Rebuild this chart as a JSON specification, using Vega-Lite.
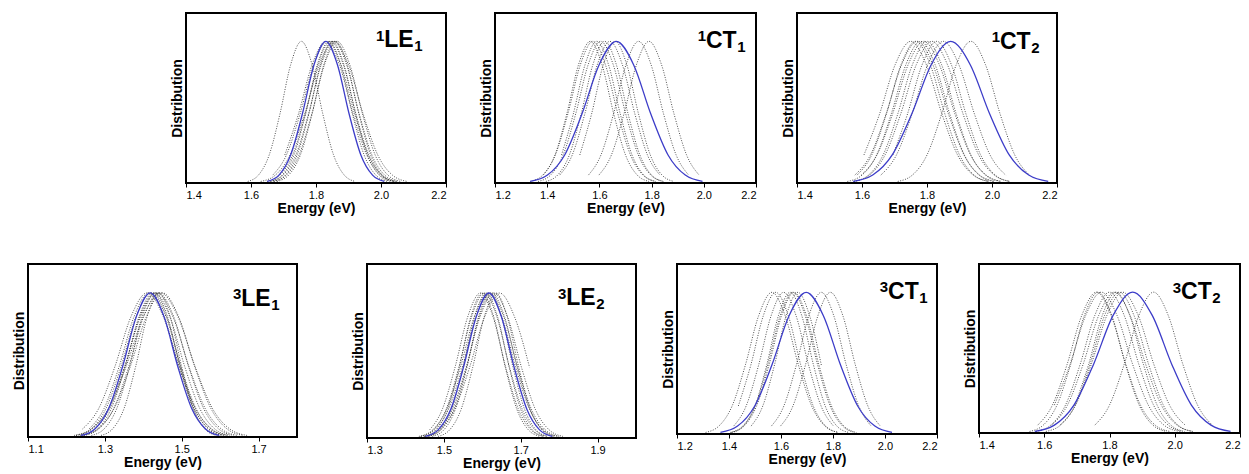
{
"$schema": "https://vega.github.io/schema/vega-lite/v6.json",
"background": "white",
"padding": {"left": 11, "top": 12, "right": 0, "bottom": 0},
"config": {
  "font": "Liberation Sans",
  "view": {"stroke": "black", "strokeWidth": 2},
  "axis": {"grid": false, "domain": false, "labelFont": "Liberation Sans", "labelFontSize": 11, "labelColor": "black", "tickColor": "black", "tickSize": 4, "labelPadding": 2, "titleFont": "Liberation Sans", "titleFontSize": 14, "titleFontWeight": "bold", "titleColor": "black"},
  "axisY": {"titlePadding": 2, "labels": false, "ticks": false},
  "axisX": {"titlePadding": 1, "format": ".1f"},
  "text": {"font": "Liberation Sans", "fontWeight": "bold", "color": "black"}
},
"datasets": {
"p1": [
{"c":0,"x":1.65,"y":0.011},{"c":0,"x":1.686,"y":0.056},{"c":0,"x":1.722,"y":0.198},{"c":0,"x":1.758,"y":0.487},{"c":0,"x":1.794,"y":0.835},{"c":0,"x":1.83,"y":1},{"c":0,"x":1.866,"y":0.835},{"c":0,"x":1.902,"y":0.487},{"c":0,"x":1.938,"y":0.198},{"c":0,"x":1.974,"y":0.056},{"c":0,"x":2.01,"y":0.011},
{"c":1,"x":1.59,"y":0.011},{"c":1,"x":1.623,"y":0.056},{"c":1,"x":1.656,"y":0.198},{"c":1,"x":1.689,"y":0.487},{"c":1,"x":1.722,"y":0.835},{"c":1,"x":1.755,"y":1},{"c":1,"x":1.788,"y":0.835},{"c":1,"x":1.821,"y":0.487},{"c":1,"x":1.854,"y":0.198},{"c":1,"x":1.887,"y":0.056},{"c":1,"x":1.92,"y":0.011},
{"c":2,"x":1.667,"y":0.056},{"c":2,"x":1.709,"y":0.198},{"c":2,"x":1.751,"y":0.487},{"c":2,"x":1.793,"y":0.835},{"c":2,"x":1.835,"y":1},{"c":2,"x":1.877,"y":0.835},{"c":2,"x":1.919,"y":0.487},{"c":2,"x":1.961,"y":0.198},{"c":2,"x":2.003,"y":0.056},{"c":2,"x":2.045,"y":0.011},
{"c":3,"x":1.66,"y":0.011},{"c":3,"x":1.696,"y":0.056},{"c":3,"x":1.732,"y":0.198},{"c":3,"x":1.768,"y":0.487},{"c":3,"x":1.804,"y":0.835},{"c":3,"x":1.84,"y":1},{"c":3,"x":1.876,"y":0.835},{"c":3,"x":1.912,"y":0.487},{"c":3,"x":1.948,"y":0.198},{"c":3,"x":1.984,"y":0.056},{"c":3,"x":2.02,"y":0.011},
{"c":4,"x":1.65,"y":0.011},{"c":4,"x":1.689,"y":0.056},{"c":4,"x":1.728,"y":0.198},{"c":4,"x":1.767,"y":0.487},{"c":4,"x":1.806,"y":0.835},{"c":4,"x":1.845,"y":1},{"c":4,"x":1.884,"y":0.835},{"c":4,"x":1.923,"y":0.487},{"c":4,"x":1.962,"y":0.198},{"c":4,"x":2.001,"y":0.056},{"c":4,"x":2.04,"y":0.011},
{"c":5,"x":1.67,"y":0.011},{"c":5,"x":1.706,"y":0.056},{"c":5,"x":1.742,"y":0.198},{"c":5,"x":1.778,"y":0.487},{"c":5,"x":1.814,"y":0.835},{"c":5,"x":1.85,"y":1},{"c":5,"x":1.886,"y":0.835},{"c":5,"x":1.922,"y":0.487},{"c":5,"x":1.958,"y":0.198},{"c":5,"x":1.994,"y":0.056},{"c":5,"x":2.03,"y":0.011},
{"c":6,"x":1.66,"y":0.011},{"c":6,"x":1.699,"y":0.056},{"c":6,"x":1.738,"y":0.198},{"c":6,"x":1.777,"y":0.487},{"c":6,"x":1.816,"y":0.835},{"c":6,"x":1.855,"y":1},{"c":6,"x":1.894,"y":0.835},{"c":6,"x":1.933,"y":0.487},{"c":6,"x":1.972,"y":0.198},{"c":6,"x":2.011,"y":0.056},{"c":6,"x":2.05,"y":0.011},
{"c":7,"x":1.68,"y":0.011},{"c":7,"x":1.716,"y":0.056},{"c":7,"x":1.752,"y":0.198},{"c":7,"x":1.788,"y":0.487},{"c":7,"x":1.824,"y":0.835},{"c":7,"x":1.86,"y":1},{"c":7,"x":1.896,"y":0.835},{"c":7,"x":1.932,"y":0.487},{"c":7,"x":1.968,"y":0.198},{"c":7,"x":2.004,"y":0.056},{"c":7,"x":2.04,"y":0.011},
{"c":8,"x":1.67,"y":0.011},{"c":8,"x":1.709,"y":0.056},{"c":8,"x":1.748,"y":0.198},{"c":8,"x":1.787,"y":0.487},{"c":8,"x":1.826,"y":0.835},{"c":8,"x":1.865,"y":1},{"c":8,"x":1.904,"y":0.835},{"c":8,"x":1.943,"y":0.487},{"c":8,"x":1.982,"y":0.198},{"c":8,"x":2.021,"y":0.056},{"c":8,"x":2.06,"y":0.011},
{"c":9,"x":1.63,"y":0.011},{"c":9,"x":1.675,"y":0.056},{"c":9,"x":1.72,"y":0.198},{"c":9,"x":1.765,"y":0.487},{"c":9,"x":1.81,"y":0.835},{"c":9,"x":1.855,"y":1},{"c":9,"x":1.9,"y":0.835},{"c":9,"x":1.945,"y":0.487},{"c":9,"x":1.99,"y":0.198},{"c":9,"x":2.035,"y":0.056},{"c":9,"x":2.08,"y":0.011},
{"c":10,"x":1.704,"y":0.198},{"c":10,"x":1.746,"y":0.487},{"c":10,"x":1.788,"y":0.835},{"c":10,"x":1.83,"y":1},{"c":10,"x":1.872,"y":0.835},{"c":10,"x":1.914,"y":0.487},{"c":10,"x":1.956,"y":0.198},{"c":10,"x":1.998,"y":0.056},{"c":10,"x":2.04,"y":0.011}
],
"p2": [
{"c":0,"x":1.335,"y":0.011},{"c":0,"x":1.401,"y":0.056},{"c":0,"x":1.467,"y":0.198},{"c":0,"x":1.533,"y":0.487},{"c":0,"x":1.599,"y":0.835},{"c":0,"x":1.665,"y":1},{"c":0,"x":1.731,"y":0.835},{"c":0,"x":1.797,"y":0.487},{"c":0,"x":1.863,"y":0.198},{"c":0,"x":1.929,"y":0.056},{"c":0,"x":1.995,"y":0.011},
{"c":1,"x":1.385,"y":0.056},{"c":1,"x":1.43,"y":0.198},{"c":1,"x":1.475,"y":0.487},{"c":1,"x":1.52,"y":0.835},{"c":1,"x":1.565,"y":1},{"c":1,"x":1.61,"y":0.835},{"c":1,"x":1.655,"y":0.487},{"c":1,"x":1.7,"y":0.198},{"c":1,"x":1.745,"y":0.056},{"c":1,"x":1.79,"y":0.011},
{"c":2,"x":1.335,"y":0.011},{"c":2,"x":1.383,"y":0.056},{"c":2,"x":1.431,"y":0.198},{"c":2,"x":1.479,"y":0.487},{"c":2,"x":1.527,"y":0.835},{"c":2,"x":1.575,"y":1},{"c":2,"x":1.623,"y":0.835},{"c":2,"x":1.671,"y":0.487},{"c":2,"x":1.719,"y":0.198},{"c":2,"x":1.767,"y":0.056},{"c":2,"x":1.815,"y":0.011},
{"c":3,"x":1.455,"y":0.198},{"c":3,"x":1.5,"y":0.487},{"c":3,"x":1.545,"y":0.835},{"c":3,"x":1.59,"y":1},{"c":3,"x":1.635,"y":0.835},{"c":3,"x":1.68,"y":0.487},{"c":3,"x":1.725,"y":0.198},{"c":3,"x":1.77,"y":0.056},{"c":3,"x":1.815,"y":0.011},
{"c":4,"x":1.365,"y":0.011},{"c":4,"x":1.413,"y":0.056},{"c":4,"x":1.461,"y":0.198},{"c":4,"x":1.509,"y":0.487},{"c":4,"x":1.557,"y":0.835},{"c":4,"x":1.605,"y":1},{"c":4,"x":1.653,"y":0.835},{"c":4,"x":1.701,"y":0.487},{"c":4,"x":1.749,"y":0.198},{"c":4,"x":1.797,"y":0.056},{"c":4,"x":1.845,"y":0.011},
{"c":5,"x":1.395,"y":0.011},{"c":5,"x":1.44,"y":0.056},{"c":5,"x":1.485,"y":0.198},{"c":5,"x":1.53,"y":0.487},{"c":5,"x":1.575,"y":0.835},{"c":5,"x":1.62,"y":1},{"c":5,"x":1.665,"y":0.835},{"c":5,"x":1.71,"y":0.487},{"c":5,"x":1.755,"y":0.198},{"c":5,"x":1.8,"y":0.056},{"c":5,"x":1.845,"y":0.011},
{"c":6,"x":1.448,"y":0.056},{"c":6,"x":1.496,"y":0.198},{"c":6,"x":1.544,"y":0.487},{"c":6,"x":1.592,"y":0.835},{"c":6,"x":1.64,"y":1},{"c":6,"x":1.688,"y":0.835},{"c":6,"x":1.736,"y":0.487},{"c":6,"x":1.784,"y":0.198},{"c":6,"x":1.832,"y":0.056},
{"c":7,"x":1.525,"y":0.198},{"c":7,"x":1.57,"y":0.487},{"c":7,"x":1.615,"y":0.835},{"c":7,"x":1.66,"y":1},{"c":7,"x":1.705,"y":0.835},{"c":7,"x":1.75,"y":0.487},{"c":7,"x":1.795,"y":0.198},{"c":7,"x":1.84,"y":0.056},{"c":7,"x":1.885,"y":0.011},
{"c":8,"x":1.558,"y":0.056},{"c":8,"x":1.606,"y":0.198},{"c":8,"x":1.654,"y":0.487},{"c":8,"x":1.702,"y":0.835},{"c":8,"x":1.75,"y":1},{"c":8,"x":1.798,"y":0.835},{"c":8,"x":1.846,"y":0.487},{"c":8,"x":1.894,"y":0.198},{"c":8,"x":1.942,"y":0.056},
{"c":9,"x":1.598,"y":0.056},{"c":9,"x":1.646,"y":0.198},{"c":9,"x":1.694,"y":0.487},{"c":9,"x":1.742,"y":0.835},{"c":9,"x":1.79,"y":1},{"c":9,"x":1.838,"y":0.835},{"c":9,"x":1.886,"y":0.487},{"c":9,"x":1.934,"y":0.198},{"c":9,"x":1.982,"y":0.056}
],
"p3": [
{"c":0,"x":1.573,"y":0.011},{"c":0,"x":1.633,"y":0.056},{"c":0,"x":1.693,"y":0.198},{"c":0,"x":1.753,"y":0.487},{"c":0,"x":1.813,"y":0.835},{"c":0,"x":1.873,"y":1},{"c":0,"x":1.933,"y":0.835},{"c":0,"x":1.993,"y":0.487},{"c":0,"x":2.053,"y":0.198},{"c":0,"x":2.113,"y":0.056},{"c":0,"x":2.173,"y":0.011},
{"c":1,"x":1.606,"y":0.198},{"c":1,"x":1.654,"y":0.487},{"c":1,"x":1.702,"y":0.835},{"c":1,"x":1.75,"y":1},{"c":1,"x":1.798,"y":0.835},{"c":1,"x":1.846,"y":0.487},{"c":1,"x":1.894,"y":0.198},{"c":1,"x":1.942,"y":0.056},{"c":1,"x":1.99,"y":0.011},
{"c":2,"x":1.585,"y":0.056},{"c":2,"x":1.63,"y":0.198},{"c":2,"x":1.675,"y":0.487},{"c":2,"x":1.72,"y":0.835},{"c":2,"x":1.765,"y":1},{"c":2,"x":1.81,"y":0.835},{"c":2,"x":1.855,"y":0.487},{"c":2,"x":1.9,"y":0.198},{"c":2,"x":1.945,"y":0.056},{"c":2,"x":1.99,"y":0.011},
{"c":3,"x":1.555,"y":0.011},{"c":3,"x":1.6,"y":0.056},{"c":3,"x":1.645,"y":0.198},{"c":3,"x":1.69,"y":0.487},{"c":3,"x":1.735,"y":0.835},{"c":3,"x":1.78,"y":1},{"c":3,"x":1.825,"y":0.835},{"c":3,"x":1.87,"y":0.487},{"c":3,"x":1.915,"y":0.198},{"c":3,"x":1.96,"y":0.056},{"c":3,"x":2.005,"y":0.011},
{"c":4,"x":1.598,"y":0.056},{"c":4,"x":1.646,"y":0.198},{"c":4,"x":1.694,"y":0.487},{"c":4,"x":1.742,"y":0.835},{"c":4,"x":1.79,"y":1},{"c":4,"x":1.838,"y":0.835},{"c":4,"x":1.886,"y":0.487},{"c":4,"x":1.934,"y":0.198},{"c":4,"x":1.982,"y":0.056},{"c":4,"x":2.03,"y":0.011},
{"c":5,"x":1.575,"y":0.011},{"c":5,"x":1.62,"y":0.056},{"c":5,"x":1.665,"y":0.198},{"c":5,"x":1.71,"y":0.487},{"c":5,"x":1.755,"y":0.835},{"c":5,"x":1.8,"y":1},{"c":5,"x":1.845,"y":0.835},{"c":5,"x":1.89,"y":0.487},{"c":5,"x":1.935,"y":0.198},{"c":5,"x":1.98,"y":0.056},{"c":5,"x":2.025,"y":0.011},
{"c":6,"x":1.575,"y":0.011},{"c":6,"x":1.623,"y":0.056},{"c":6,"x":1.671,"y":0.198},{"c":6,"x":1.719,"y":0.487},{"c":6,"x":1.767,"y":0.835},{"c":6,"x":1.815,"y":1},{"c":6,"x":1.863,"y":0.835},{"c":6,"x":1.911,"y":0.487},{"c":6,"x":1.959,"y":0.198},{"c":6,"x":2.007,"y":0.056},{"c":6,"x":2.055,"y":0.011},
{"c":7,"x":1.695,"y":0.198},{"c":7,"x":1.74,"y":0.487},{"c":7,"x":1.785,"y":0.835},{"c":7,"x":1.83,"y":1},{"c":7,"x":1.875,"y":0.835},{"c":7,"x":1.92,"y":0.487},{"c":7,"x":1.965,"y":0.198},{"c":7,"x":2.01,"y":0.056},{"c":7,"x":2.055,"y":0.011},
{"c":8,"x":1.658,"y":0.056},{"c":8,"x":1.706,"y":0.198},{"c":8,"x":1.754,"y":0.487},{"c":8,"x":1.802,"y":0.835},{"c":8,"x":1.85,"y":1},{"c":8,"x":1.898,"y":0.835},{"c":8,"x":1.946,"y":0.487},{"c":8,"x":1.994,"y":0.198},{"c":8,"x":2.042,"y":0.056},
{"c":9,"x":1.71,"y":0.011},{"c":9,"x":1.755,"y":0.056},{"c":9,"x":1.8,"y":0.198},{"c":9,"x":1.845,"y":0.487},{"c":9,"x":1.89,"y":0.835},{"c":9,"x":1.935,"y":1},{"c":9,"x":1.98,"y":0.835},{"c":9,"x":2.025,"y":0.487},{"c":9,"x":2.07,"y":0.198},{"c":9,"x":2.115,"y":0.056},
{"c":10,"x":1.578,"y":0.056},{"c":10,"x":1.626,"y":0.198},{"c":10,"x":1.674,"y":0.487},{"c":10,"x":1.722,"y":0.835},{"c":10,"x":1.77,"y":1},{"c":10,"x":1.818,"y":0.835},{"c":10,"x":1.866,"y":0.487},{"c":10,"x":1.914,"y":0.198},{"c":10,"x":1.962,"y":0.056},{"c":10,"x":2.01,"y":0.011}
],
"p4": [
{"c":0,"x":1.238,"y":0.011},{"c":0,"x":1.274,"y":0.056},{"c":0,"x":1.31,"y":0.198},{"c":0,"x":1.346,"y":0.487},{"c":0,"x":1.382,"y":0.835},{"c":0,"x":1.418,"y":1},{"c":0,"x":1.454,"y":0.835},{"c":0,"x":1.49,"y":0.487},{"c":0,"x":1.526,"y":0.198},{"c":0,"x":1.562,"y":0.056},{"c":0,"x":1.598,"y":0.011},
{"c":1,"x":1.242,"y":0.056},{"c":1,"x":1.284,"y":0.198},{"c":1,"x":1.326,"y":0.487},{"c":1,"x":1.368,"y":0.835},{"c":1,"x":1.41,"y":1},{"c":1,"x":1.452,"y":0.835},{"c":1,"x":1.494,"y":0.487},{"c":1,"x":1.536,"y":0.198},{"c":1,"x":1.578,"y":0.056},{"c":1,"x":1.62,"y":0.011},
{"c":2,"x":1.259,"y":0.056},{"c":2,"x":1.298,"y":0.198},{"c":2,"x":1.337,"y":0.487},{"c":2,"x":1.376,"y":0.835},{"c":2,"x":1.415,"y":1},{"c":2,"x":1.454,"y":0.835},{"c":2,"x":1.493,"y":0.487},{"c":2,"x":1.532,"y":0.198},{"c":2,"x":1.571,"y":0.056},{"c":2,"x":1.61,"y":0.011},
{"c":3,"x":1.225,"y":0.011},{"c":3,"x":1.264,"y":0.056},{"c":3,"x":1.303,"y":0.198},{"c":3,"x":1.342,"y":0.487},{"c":3,"x":1.381,"y":0.835},{"c":3,"x":1.42,"y":1},{"c":3,"x":1.459,"y":0.835},{"c":3,"x":1.498,"y":0.487},{"c":3,"x":1.537,"y":0.198},{"c":3,"x":1.576,"y":0.056},{"c":3,"x":1.615,"y":0.011},
{"c":4,"x":1.245,"y":0.011},{"c":4,"x":1.281,"y":0.056},{"c":4,"x":1.317,"y":0.198},{"c":4,"x":1.353,"y":0.487},{"c":4,"x":1.389,"y":0.835},{"c":4,"x":1.425,"y":1},{"c":4,"x":1.461,"y":0.835},{"c":4,"x":1.497,"y":0.487},{"c":4,"x":1.533,"y":0.198},{"c":4,"x":1.569,"y":0.056},{"c":4,"x":1.605,"y":0.011},
{"c":5,"x":1.235,"y":0.011},{"c":5,"x":1.274,"y":0.056},{"c":5,"x":1.313,"y":0.198},{"c":5,"x":1.352,"y":0.487},{"c":5,"x":1.391,"y":0.835},{"c":5,"x":1.43,"y":1},{"c":5,"x":1.469,"y":0.835},{"c":5,"x":1.508,"y":0.487},{"c":5,"x":1.547,"y":0.198},{"c":5,"x":1.586,"y":0.056},{"c":5,"x":1.625,"y":0.011},
{"c":6,"x":1.225,"y":0.011},{"c":6,"x":1.267,"y":0.056},{"c":6,"x":1.309,"y":0.198},{"c":6,"x":1.351,"y":0.487},{"c":6,"x":1.393,"y":0.835},{"c":6,"x":1.435,"y":1},{"c":6,"x":1.477,"y":0.835},{"c":6,"x":1.519,"y":0.487},{"c":6,"x":1.561,"y":0.198},{"c":6,"x":1.603,"y":0.056},{"c":6,"x":1.645,"y":0.011},
{"c":7,"x":1.245,"y":0.011},{"c":7,"x":1.284,"y":0.056},{"c":7,"x":1.323,"y":0.198},{"c":7,"x":1.362,"y":0.487},{"c":7,"x":1.401,"y":0.835},{"c":7,"x":1.44,"y":1},{"c":7,"x":1.479,"y":0.835},{"c":7,"x":1.518,"y":0.487},{"c":7,"x":1.557,"y":0.198},{"c":7,"x":1.596,"y":0.056},{"c":7,"x":1.635,"y":0.011},
{"c":8,"x":1.22,"y":0.011},{"c":8,"x":1.265,"y":0.056},{"c":8,"x":1.31,"y":0.198},{"c":8,"x":1.355,"y":0.487},{"c":8,"x":1.4,"y":0.835},{"c":8,"x":1.445,"y":1},{"c":8,"x":1.49,"y":0.835},{"c":8,"x":1.535,"y":0.487},{"c":8,"x":1.58,"y":0.198},{"c":8,"x":1.625,"y":0.056},{"c":8,"x":1.67,"y":0.011},
{"c":9,"x":1.265,"y":0.011},{"c":9,"x":1.298,"y":0.056},{"c":9,"x":1.331,"y":0.198},{"c":9,"x":1.364,"y":0.487},{"c":9,"x":1.397,"y":0.835},{"c":9,"x":1.43,"y":1},{"c":9,"x":1.463,"y":0.835},{"c":9,"x":1.496,"y":0.487},{"c":9,"x":1.529,"y":0.198},{"c":9,"x":1.562,"y":0.056},{"c":9,"x":1.595,"y":0.011},
{"c":10,"x":1.29,"y":0.011},{"c":10,"x":1.32,"y":0.056},{"c":10,"x":1.35,"y":0.198},{"c":10,"x":1.38,"y":0.487},{"c":10,"x":1.41,"y":0.835},{"c":10,"x":1.44,"y":1},{"c":10,"x":1.47,"y":0.835},{"c":10,"x":1.5,"y":0.487},{"c":10,"x":1.53,"y":0.198},{"c":10,"x":1.56,"y":0.056},{"c":10,"x":1.59,"y":0.011},
{"c":11,"x":1.24,"y":0.011},{"c":11,"x":1.282,"y":0.056},{"c":11,"x":1.324,"y":0.198},{"c":11,"x":1.366,"y":0.487},{"c":11,"x":1.408,"y":0.835},{"c":11,"x":1.45,"y":1},{"c":11,"x":1.492,"y":0.835},{"c":11,"x":1.534,"y":0.487},{"c":11,"x":1.576,"y":0.198},{"c":11,"x":1.618,"y":0.056},{"c":11,"x":1.66,"y":0.011}
],
"p5": [
{"c":0,"x":1.452,"y":0.011},{"c":0,"x":1.485,"y":0.056},{"c":0,"x":1.518,"y":0.198},{"c":0,"x":1.551,"y":0.487},{"c":0,"x":1.584,"y":0.835},{"c":0,"x":1.617,"y":1},{"c":0,"x":1.65,"y":0.835},{"c":0,"x":1.683,"y":0.487},{"c":0,"x":1.716,"y":0.198},{"c":0,"x":1.749,"y":0.056},{"c":0,"x":1.782,"y":0.011},
{"c":1,"x":1.463,"y":0.056},{"c":1,"x":1.496,"y":0.198},{"c":1,"x":1.529,"y":0.487},{"c":1,"x":1.562,"y":0.835},{"c":1,"x":1.595,"y":1},{"c":1,"x":1.628,"y":0.835},{"c":1,"x":1.661,"y":0.487},{"c":1,"x":1.694,"y":0.198},{"c":1,"x":1.727,"y":0.056},{"c":1,"x":1.76,"y":0.011},
{"c":2,"x":1.45,"y":0.011},{"c":2,"x":1.48,"y":0.056},{"c":2,"x":1.51,"y":0.198},{"c":2,"x":1.54,"y":0.487},{"c":2,"x":1.57,"y":0.835},{"c":2,"x":1.6,"y":1},{"c":2,"x":1.63,"y":0.835},{"c":2,"x":1.66,"y":0.487},{"c":2,"x":1.69,"y":0.198},{"c":2,"x":1.72,"y":0.056},{"c":2,"x":1.75,"y":0.011},
{"c":3,"x":1.44,"y":0.011},{"c":3,"x":1.473,"y":0.056},{"c":3,"x":1.506,"y":0.198},{"c":3,"x":1.539,"y":0.487},{"c":3,"x":1.572,"y":0.835},{"c":3,"x":1.605,"y":1},{"c":3,"x":1.638,"y":0.835},{"c":3,"x":1.671,"y":0.487},{"c":3,"x":1.704,"y":0.198},{"c":3,"x":1.737,"y":0.056},{"c":3,"x":1.77,"y":0.011},
{"c":4,"x":1.46,"y":0.011},{"c":4,"x":1.49,"y":0.056},{"c":4,"x":1.52,"y":0.198},{"c":4,"x":1.55,"y":0.487},{"c":4,"x":1.58,"y":0.835},{"c":4,"x":1.61,"y":1},{"c":4,"x":1.64,"y":0.835},{"c":4,"x":1.67,"y":0.487},{"c":4,"x":1.7,"y":0.198},{"c":4,"x":1.73,"y":0.056},{"c":4,"x":1.76,"y":0.011},
{"c":5,"x":1.435,"y":0.011},{"c":5,"x":1.471,"y":0.056},{"c":5,"x":1.507,"y":0.198},{"c":5,"x":1.543,"y":0.487},{"c":5,"x":1.579,"y":0.835},{"c":5,"x":1.615,"y":1},{"c":5,"x":1.651,"y":0.835},{"c":5,"x":1.687,"y":0.487},{"c":5,"x":1.723,"y":0.198},{"c":5,"x":1.759,"y":0.056},{"c":5,"x":1.795,"y":0.011},
{"c":6,"x":1.47,"y":0.011},{"c":6,"x":1.5,"y":0.056},{"c":6,"x":1.53,"y":0.198},{"c":6,"x":1.56,"y":0.487},{"c":6,"x":1.59,"y":0.835},{"c":6,"x":1.62,"y":1},{"c":6,"x":1.65,"y":0.835},{"c":6,"x":1.68,"y":0.487},{"c":6,"x":1.71,"y":0.198},{"c":6,"x":1.74,"y":0.056},{"c":6,"x":1.77,"y":0.011},
{"c":7,"x":1.46,"y":0.011},{"c":7,"x":1.493,"y":0.056},{"c":7,"x":1.526,"y":0.198},{"c":7,"x":1.559,"y":0.487},{"c":7,"x":1.592,"y":0.835},{"c":7,"x":1.625,"y":1},{"c":7,"x":1.658,"y":0.835},{"c":7,"x":1.691,"y":0.487},{"c":7,"x":1.724,"y":0.198},{"c":7,"x":1.757,"y":0.056},{"c":7,"x":1.79,"y":0.011},
{"c":8,"x":1.45,"y":0.011},{"c":8,"x":1.486,"y":0.056},{"c":8,"x":1.522,"y":0.198},{"c":8,"x":1.558,"y":0.487},{"c":8,"x":1.594,"y":0.835},{"c":8,"x":1.63,"y":1},{"c":8,"x":1.666,"y":0.835},{"c":8,"x":1.702,"y":0.487},{"c":8,"x":1.738,"y":0.198},{"c":8,"x":1.774,"y":0.056},{"c":8,"x":1.81,"y":0.011},
{"c":9,"x":1.45,"y":0.011},{"c":9,"x":1.489,"y":0.056},{"c":9,"x":1.528,"y":0.198},{"c":9,"x":1.567,"y":0.487},{"c":9,"x":1.606,"y":0.835},{"c":9,"x":1.645,"y":1},{"c":9,"x":1.684,"y":0.835},{"c":9,"x":1.723,"y":0.487},
{"c":10,"x":1.485,"y":0.011},{"c":10,"x":1.515,"y":0.056},{"c":10,"x":1.545,"y":0.198},{"c":10,"x":1.575,"y":0.487},{"c":10,"x":1.605,"y":0.835},{"c":10,"x":1.635,"y":1},{"c":10,"x":1.665,"y":0.835},{"c":10,"x":1.695,"y":0.487},{"c":10,"x":1.725,"y":0.198},{"c":10,"x":1.755,"y":0.056},{"c":10,"x":1.785,"y":0.011},
{"c":11,"x":1.44,"y":0.011},{"c":11,"x":1.476,"y":0.056},{"c":11,"x":1.512,"y":0.198},{"c":11,"x":1.548,"y":0.487},{"c":11,"x":1.584,"y":0.835},{"c":11,"x":1.62,"y":1},{"c":11,"x":1.656,"y":0.835},{"c":11,"x":1.692,"y":0.487},{"c":11,"x":1.728,"y":0.198},{"c":11,"x":1.764,"y":0.056},{"c":11,"x":1.8,"y":0.011}
],
"p6": [
{"c":0,"x":1.367,"y":0.011},{"c":0,"x":1.433,"y":0.056},{"c":0,"x":1.499,"y":0.198},{"c":0,"x":1.565,"y":0.487},{"c":0,"x":1.631,"y":0.835},{"c":0,"x":1.697,"y":1},{"c":0,"x":1.763,"y":0.835},{"c":0,"x":1.829,"y":0.487},{"c":0,"x":1.895,"y":0.198},{"c":0,"x":1.961,"y":0.056},{"c":0,"x":2.027,"y":0.011},
{"c":1,"x":1.31,"y":0.011},{"c":1,"x":1.361,"y":0.056},{"c":1,"x":1.412,"y":0.198},{"c":1,"x":1.463,"y":0.487},{"c":1,"x":1.514,"y":0.835},{"c":1,"x":1.565,"y":1},{"c":1,"x":1.616,"y":0.835},{"c":1,"x":1.667,"y":0.487},{"c":1,"x":1.718,"y":0.198},{"c":1,"x":1.769,"y":0.056},{"c":1,"x":1.82,"y":0.011},
{"c":2,"x":1.436,"y":0.198},{"c":2,"x":1.484,"y":0.487},{"c":2,"x":1.532,"y":0.835},{"c":2,"x":1.58,"y":1},{"c":2,"x":1.628,"y":0.835},{"c":2,"x":1.676,"y":0.487},{"c":2,"x":1.724,"y":0.198},{"c":2,"x":1.772,"y":0.056},{"c":2,"x":1.82,"y":0.011},
{"c":3,"x":1.418,"y":0.056},{"c":3,"x":1.466,"y":0.198},{"c":3,"x":1.514,"y":0.487},{"c":3,"x":1.562,"y":0.835},{"c":3,"x":1.61,"y":1},{"c":3,"x":1.658,"y":0.835},{"c":3,"x":1.706,"y":0.487},{"c":3,"x":1.754,"y":0.198},{"c":3,"x":1.802,"y":0.056},
{"c":4,"x":1.41,"y":0.011},{"c":4,"x":1.455,"y":0.056},{"c":4,"x":1.5,"y":0.198},{"c":4,"x":1.545,"y":0.487},{"c":4,"x":1.59,"y":0.835},{"c":4,"x":1.635,"y":1},{"c":4,"x":1.68,"y":0.835},{"c":4,"x":1.725,"y":0.487},{"c":4,"x":1.77,"y":0.198},{"c":4,"x":1.815,"y":0.056},{"c":4,"x":1.86,"y":0.011},
{"c":5,"x":1.41,"y":0.011},{"c":5,"x":1.458,"y":0.056},{"c":5,"x":1.506,"y":0.198},{"c":5,"x":1.554,"y":0.487},{"c":5,"x":1.602,"y":0.835},{"c":5,"x":1.65,"y":1},{"c":5,"x":1.698,"y":0.835},{"c":5,"x":1.746,"y":0.487},{"c":5,"x":1.794,"y":0.198},{"c":5,"x":1.842,"y":0.056},{"c":5,"x":1.89,"y":0.011},
{"c":6,"x":1.485,"y":0.056},{"c":6,"x":1.53,"y":0.198},{"c":6,"x":1.575,"y":0.487},{"c":6,"x":1.62,"y":0.835},{"c":6,"x":1.665,"y":1},{"c":6,"x":1.71,"y":0.835},{"c":6,"x":1.755,"y":0.487},
{"c":7,"x":1.563,"y":0.056},{"c":7,"x":1.611,"y":0.198},{"c":7,"x":1.659,"y":0.487},{"c":7,"x":1.707,"y":0.835},{"c":7,"x":1.755,"y":1},{"c":7,"x":1.803,"y":0.835},{"c":7,"x":1.851,"y":0.487},{"c":7,"x":1.899,"y":0.198},{"c":7,"x":1.947,"y":0.056},
{"c":8,"x":1.598,"y":0.056},{"c":8,"x":1.646,"y":0.198},{"c":8,"x":1.694,"y":0.487},{"c":8,"x":1.742,"y":0.835},{"c":8,"x":1.79,"y":1},{"c":8,"x":1.838,"y":0.835},{"c":8,"x":1.886,"y":0.487},{"c":8,"x":1.934,"y":0.198},{"c":8,"x":1.982,"y":0.056},
{"c":9,"x":1.405,"y":0.011},{"c":9,"x":1.453,"y":0.056},{"c":9,"x":1.501,"y":0.198},{"c":9,"x":1.549,"y":0.487},{"c":9,"x":1.597,"y":0.835},{"c":9,"x":1.645,"y":1},{"c":9,"x":1.693,"y":0.835},{"c":9,"x":1.741,"y":0.487},{"c":9,"x":1.789,"y":0.198},{"c":9,"x":1.837,"y":0.056},{"c":9,"x":1.885,"y":0.011}
],
"p7": [
{"c":0,"x":1.571,"y":0.011},{"c":0,"x":1.631,"y":0.056},{"c":0,"x":1.691,"y":0.198},{"c":0,"x":1.751,"y":0.487},{"c":0,"x":1.811,"y":0.835},{"c":0,"x":1.871,"y":1},{"c":0,"x":1.931,"y":0.835},{"c":0,"x":1.991,"y":0.487},{"c":0,"x":2.051,"y":0.198},{"c":0,"x":2.111,"y":0.056},{"c":0,"x":2.171,"y":0.011},
{"c":1,"x":1.58,"y":0.056},{"c":1,"x":1.625,"y":0.198},{"c":1,"x":1.67,"y":0.487},{"c":1,"x":1.715,"y":0.835},{"c":1,"x":1.76,"y":1},{"c":1,"x":1.805,"y":0.835},{"c":1,"x":1.85,"y":0.487},{"c":1,"x":1.895,"y":0.198},{"c":1,"x":1.94,"y":0.056},{"c":1,"x":1.985,"y":0.011},
{"c":2,"x":1.631,"y":0.198},{"c":2,"x":1.679,"y":0.487},{"c":2,"x":1.727,"y":0.835},{"c":2,"x":1.775,"y":1},{"c":2,"x":1.823,"y":0.835},{"c":2,"x":1.871,"y":0.487},{"c":2,"x":1.919,"y":0.198},{"c":2,"x":1.967,"y":0.056},{"c":2,"x":2.015,"y":0.011},
{"c":3,"x":1.575,"y":0.011},{"c":3,"x":1.62,"y":0.056},{"c":3,"x":1.665,"y":0.198},{"c":3,"x":1.71,"y":0.487},{"c":3,"x":1.755,"y":0.835},{"c":3,"x":1.8,"y":1},{"c":3,"x":1.845,"y":0.835},{"c":3,"x":1.89,"y":0.487},{"c":3,"x":1.935,"y":0.198},{"c":3,"x":1.98,"y":0.056},{"c":3,"x":2.025,"y":0.011},
{"c":4,"x":1.623,"y":0.056},{"c":4,"x":1.671,"y":0.198},{"c":4,"x":1.719,"y":0.487},{"c":4,"x":1.767,"y":0.835},{"c":4,"x":1.815,"y":1},{"c":4,"x":1.863,"y":0.835},{"c":4,"x":1.911,"y":0.487},{"c":4,"x":1.959,"y":0.198},{"c":4,"x":2.007,"y":0.056},{"c":4,"x":2.055,"y":0.011},
{"c":5,"x":1.605,"y":0.011},{"c":5,"x":1.65,"y":0.056},{"c":5,"x":1.695,"y":0.198},{"c":5,"x":1.74,"y":0.487},{"c":5,"x":1.785,"y":0.835},{"c":5,"x":1.83,"y":1},{"c":5,"x":1.875,"y":0.835},{"c":5,"x":1.92,"y":0.487},{"c":5,"x":1.965,"y":0.198},{"c":5,"x":2.01,"y":0.056},{"c":5,"x":2.055,"y":0.011},
{"c":6,"x":1.648,"y":0.056},{"c":6,"x":1.696,"y":0.198},{"c":6,"x":1.744,"y":0.487},{"c":6,"x":1.792,"y":0.835},{"c":6,"x":1.84,"y":1},{"c":6,"x":1.888,"y":0.835},{"c":6,"x":1.936,"y":0.487},{"c":6,"x":1.984,"y":0.198},{"c":6,"x":2.032,"y":0.056},
{"c":7,"x":1.755,"y":0.056},{"c":7,"x":1.8,"y":0.198},{"c":7,"x":1.845,"y":0.487},{"c":7,"x":1.89,"y":0.835},{"c":7,"x":1.935,"y":1},{"c":7,"x":1.98,"y":0.835},{"c":7,"x":2.025,"y":0.487},{"c":7,"x":2.07,"y":0.198},{"c":7,"x":2.115,"y":0.056},
{"c":8,"x":1.555,"y":0.011},{"c":8,"x":1.597,"y":0.056},{"c":8,"x":1.639,"y":0.198},{"c":8,"x":1.681,"y":0.487},{"c":8,"x":1.723,"y":0.835},{"c":8,"x":1.765,"y":1},{"c":8,"x":1.807,"y":0.835},{"c":8,"x":1.849,"y":0.487},{"c":8,"x":1.891,"y":0.198},{"c":8,"x":1.933,"y":0.056},{"c":8,"x":1.975,"y":0.011},
{"c":9,"x":1.694,"y":0.198},{"c":9,"x":1.736,"y":0.487},{"c":9,"x":1.778,"y":0.835},{"c":9,"x":1.82,"y":1},{"c":9,"x":1.862,"y":0.835},{"c":9,"x":1.904,"y":0.487},{"c":9,"x":1.946,"y":0.198},{"c":9,"x":1.988,"y":0.056},{"c":9,"x":2.03,"y":0.011}
]
},
"spacing": 47,
"vconcat": [
{"spacing": 30, "hconcat": [
  {"width": 111, "height": 170, "view": {"stroke": null}, "data": {"values": []}, "mark": "point", "encoding": {}},
  {"width": 260, "height": 170, "data": {"name": "p1"}, "layer": [
    {"transform": [{"filter": "datum.c > 0"}], "mark": {"type": "line", "interpolate": "monotone", "stroke": "#333333", "strokeWidth": 1, "strokeDash": [1, 1.5], "opacity": 0.85, "clip": true},
     "encoding": {"x": {"field": "x", "type": "quantitative", "scale": {"domain": [1.4, 2.2], "nice": false, "zero": false}, "axis": {"values": [1.4, 1.6, 1.8, 2.0, 2.2], "title": "Energy (eV)"}},
                  "y": {"field": "y", "type": "quantitative", "scale": {"domain": [0, 1.2], "nice": false}, "axis": {"title": "Distribution"}},
                  "detail": {"field": "c", "type": "nominal"}}},
    {"transform": [{"filter": "datum.c == 0"}], "mark": {"type": "line", "interpolate": "monotone", "stroke": "#3c3cc8", "strokeWidth": 1.3, "clip": true},
     "encoding": {"x": {"field": "x", "type": "quantitative"}, "y": {"field": "y", "type": "quantitative"}}},
    {"data": {"values": [{"t": "LE"}]}, "mark": {"type": "text", "align": "right", "baseline": "alphabetic", "fontSize": 23}, "encoding": {"x": {"datum": 2.1006}, "y": {"datum": 0.96}, "text": {"field": "t"}}},
    {"data": {"values": [{"t": "1"}]}, "mark": {"type": "text", "align": "right", "baseline": "alphabetic", "fontSize": 15, "dx": -29.4, "dy": -6.5}, "encoding": {"x": {"datum": 2.1006}, "y": {"datum": 0.96}, "text": {"field": "t"}}},
    {"data": {"values": [{"t": "1"}]}, "mark": {"type": "text", "align": "left", "baseline": "alphabetic", "fontSize": 15, "dx": 0.5, "dy": 4}, "encoding": {"x": {"datum": 2.1006}, "y": {"datum": 0.96}, "text": {"field": "t"}}}
  ]},
  {"spacing": 22, "hconcat": [
  {"width": 261, "height": 170, "data": {"name": "p2"}, "layer": [
    {"transform": [{"filter": "datum.c > 0"}], "mark": {"type": "line", "interpolate": "monotone", "stroke": "#333333", "strokeWidth": 1, "strokeDash": [1, 1.5], "opacity": 0.85, "clip": true},
     "encoding": {"x": {"field": "x", "type": "quantitative", "scale": {"domain": [1.2, 2.2], "nice": false, "zero": false}, "axis": {"values": [1.2, 1.4, 1.6, 1.8, 2.0, 2.2], "title": "Energy (eV)"}},
                  "y": {"field": "y", "type": "quantitative", "scale": {"domain": [0, 1.2], "nice": false}, "axis": {"title": "Distribution"}},
                  "detail": {"field": "c", "type": "nominal"}}},
    {"transform": [{"filter": "datum.c == 0"}], "mark": {"type": "line", "interpolate": "monotone", "stroke": "#3c3cc8", "strokeWidth": 1.3, "clip": true},
     "encoding": {"x": {"field": "x", "type": "quantitative"}, "y": {"field": "y", "type": "quantitative"}}},
    {"data": {"values": [{"t": "CT"}]}, "mark": {"type": "text", "align": "right", "baseline": "alphabetic", "fontSize": 23}, "encoding": {"x": {"datum": 2.126}, "y": {"datum": 0.953}, "text": {"field": "t"}}},
    {"data": {"values": [{"t": "1"}]}, "mark": {"type": "text", "align": "right", "baseline": "alphabetic", "fontSize": 15, "dx": -30.7, "dy": -6.5}, "encoding": {"x": {"datum": 2.126}, "y": {"datum": 0.953}, "text": {"field": "t"}}},
    {"data": {"values": [{"t": "1"}]}, "mark": {"type": "text", "align": "left", "baseline": "alphabetic", "fontSize": 15, "dx": 0.5, "dy": 4}, "encoding": {"x": {"datum": 2.126}, "y": {"datum": 0.953}, "text": {"field": "t"}}}
  ]},
  {"width": 260, "height": 170, "data": {"name": "p3"}, "layer": [
    {"transform": [{"filter": "datum.c > 0"}], "mark": {"type": "line", "interpolate": "monotone", "stroke": "#333333", "strokeWidth": 1, "strokeDash": [1, 1.5], "opacity": 0.85, "clip": true},
     "encoding": {"x": {"field": "x", "type": "quantitative", "scale": {"domain": [1.4, 2.2], "nice": false, "zero": false}, "axis": {"values": [1.4, 1.6, 1.8, 2.0, 2.2], "title": "Energy (eV)"}},
                  "y": {"field": "y", "type": "quantitative", "scale": {"domain": [0, 1.2], "nice": false}, "axis": {"title": "Distribution"}},
                  "detail": {"field": "c", "type": "nominal"}}},
    {"transform": [{"filter": "datum.c == 0"}], "mark": {"type": "line", "interpolate": "monotone", "stroke": "#3c3cc8", "strokeWidth": 1.3, "clip": true},
     "encoding": {"x": {"field": "x", "type": "quantitative"}, "y": {"field": "y", "type": "quantitative"}}},
    {"data": {"values": [{"t": "CT"}]}, "mark": {"type": "text", "align": "right", "baseline": "alphabetic", "fontSize": 23}, "encoding": {"x": {"datum": 2.119}, "y": {"datum": 0.946}, "text": {"field": "t"}}},
    {"data": {"values": [{"t": "1"}]}, "mark": {"type": "text", "align": "right", "baseline": "alphabetic", "fontSize": 15, "dx": -30.7, "dy": -6.5}, "encoding": {"x": {"datum": 2.119}, "y": {"datum": 0.946}, "text": {"field": "t"}}},
    {"data": {"values": [{"t": "2"}]}, "mark": {"type": "text", "align": "left", "baseline": "alphabetic", "fontSize": 15, "dx": 0.5, "dy": 4}, "encoding": {"x": {"datum": 2.119}, "y": {"datum": 0.946}, "text": {"field": "t"}}}
  ]}
  ]}
]},
{"spacing": 52, "hconcat": [
  {"width": 269, "height": 173, "data": {"name": "p4"}, "layer": [
    {"transform": [{"filter": "datum.c > 0"}], "mark": {"type": "line", "interpolate": "monotone", "stroke": "#333333", "strokeWidth": 1, "strokeDash": [1, 1.5], "opacity": 0.85, "clip": true},
     "encoding": {"x": {"field": "x", "type": "quantitative", "scale": {"domain": [1.1, 1.8], "nice": false, "zero": false}, "axis": {"values": [1.1, 1.3, 1.5, 1.7], "title": "Energy (eV)"}},
                  "y": {"field": "y", "type": "quantitative", "scale": {"domain": [0, 1.2], "nice": false}, "axis": {"title": "Distribution"}},
                  "detail": {"field": "c", "type": "nominal"}}},
    {"transform": [{"filter": "datum.c == 0"}], "mark": {"type": "line", "interpolate": "monotone", "stroke": "#3c3cc8", "strokeWidth": 1.3, "clip": true},
     "encoding": {"x": {"field": "x", "type": "quantitative"}, "y": {"field": "y", "type": "quantitative"}}},
    {"data": {"values": [{"t": "LE"}]}, "mark": {"type": "text", "align": "right", "baseline": "alphabetic", "fontSize": 23}, "encoding": {"x": {"datum": 1.7316}, "y": {"datum": 0.91}, "text": {"field": "t"}}},
    {"data": {"values": [{"t": "3"}]}, "mark": {"type": "text", "align": "right", "baseline": "alphabetic", "fontSize": 15, "dx": -29.4, "dy": -6.5}, "encoding": {"x": {"datum": 1.7316}, "y": {"datum": 0.91}, "text": {"field": "t"}}},
    {"data": {"values": [{"t": "1"}]}, "mark": {"type": "text", "align": "left", "baseline": "alphabetic", "fontSize": 15, "dx": 0.5, "dy": 4}, "encoding": {"x": {"datum": 1.7316}, "y": {"datum": 0.91}, "text": {"field": "t"}}}
  ]},
  {"spacing": 23, "hconcat": [
  {"width": 269, "height": 174, "data": {"name": "p5"}, "layer": [
    {"transform": [{"filter": "datum.c > 0"}], "mark": {"type": "line", "interpolate": "monotone", "stroke": "#333333", "strokeWidth": 1, "strokeDash": [1, 1.5], "opacity": 0.85, "clip": true},
     "encoding": {"x": {"field": "x", "type": "quantitative", "scale": {"domain": [1.3, 2.0], "nice": false, "zero": false}, "axis": {"values": [1.3, 1.5, 1.7, 1.9], "title": "Energy (eV)"}},
                  "y": {"field": "y", "type": "quantitative", "scale": {"domain": [0, 1.2], "nice": false}, "axis": {"title": "Distribution"}},
                  "detail": {"field": "c", "type": "nominal"}}},
    {"transform": [{"filter": "datum.c == 0"}], "mark": {"type": "line", "interpolate": "monotone", "stroke": "#3c3cc8", "strokeWidth": 1.3, "clip": true},
     "encoding": {"x": {"field": "x", "type": "quantitative"}, "y": {"field": "y", "type": "quantitative"}}},
    {"data": {"values": [{"t": "LE"}]}, "mark": {"type": "text", "align": "right", "baseline": "alphabetic", "fontSize": 23}, "encoding": {"x": {"datum": 1.895}, "y": {"datum": 0.917}, "text": {"field": "t"}}},
    {"data": {"values": [{"t": "3"}]}, "mark": {"type": "text", "align": "right", "baseline": "alphabetic", "fontSize": 15, "dx": -29.4, "dy": -6.5}, "encoding": {"x": {"datum": 1.895}, "y": {"datum": 0.917}, "text": {"field": "t"}}},
    {"data": {"values": [{"t": "2"}]}, "mark": {"type": "text", "align": "left", "baseline": "alphabetic", "fontSize": 15, "dx": 0.5, "dy": 4}, "encoding": {"x": {"datum": 1.895}, "y": {"datum": 0.917}, "text": {"field": "t"}}}
  ]},
  {"width": 260, "height": 170, "data": {"name": "p6"}, "layer": [
    {"transform": [{"filter": "datum.c > 0"}], "mark": {"type": "line", "interpolate": "monotone", "stroke": "#333333", "strokeWidth": 1, "strokeDash": [1, 1.5], "opacity": 0.85, "clip": true},
     "encoding": {"x": {"field": "x", "type": "quantitative", "scale": {"domain": [1.2, 2.2], "nice": false, "zero": false}, "axis": {"values": [1.2, 1.4, 1.6, 1.8, 2.0, 2.2], "title": "Energy (eV)"}},
                  "y": {"field": "y", "type": "quantitative", "scale": {"domain": [0, 1.2], "nice": false}, "axis": {"title": "Distribution"}},
                  "detail": {"field": "c", "type": "nominal"}}},
    {"transform": [{"filter": "datum.c == 0"}], "mark": {"type": "line", "interpolate": "monotone", "stroke": "#3c3cc8", "strokeWidth": 1.3, "clip": true},
     "encoding": {"x": {"field": "x", "type": "quantitative"}, "y": {"field": "y", "type": "quantitative"}}},
    {"data": {"values": [{"t": "CT"}]}, "mark": {"type": "text", "align": "right", "baseline": "alphabetic", "fontSize": 23}, "encoding": {"x": {"datum": 2.1296}, "y": {"datum": 0.953}, "text": {"field": "t"}}},
    {"data": {"values": [{"t": "3"}]}, "mark": {"type": "text", "align": "right", "baseline": "alphabetic", "fontSize": 15, "dx": -30.7, "dy": -6.5}, "encoding": {"x": {"datum": 2.1296}, "y": {"datum": 0.953}, "text": {"field": "t"}}},
    {"data": {"values": [{"t": "1"}]}, "mark": {"type": "text", "align": "left", "baseline": "alphabetic", "fontSize": 15, "dx": 0.5, "dy": 4}, "encoding": {"x": {"datum": 2.1296}, "y": {"datum": 0.953}, "text": {"field": "t"}}}
  ]},
  {"width": 261, "height": 169, "data": {"name": "p7"}, "layer": [
    {"transform": [{"filter": "datum.c > 0"}], "mark": {"type": "line", "interpolate": "monotone", "stroke": "#333333", "strokeWidth": 1, "strokeDash": [1, 1.5], "opacity": 0.85, "clip": true},
     "encoding": {"x": {"field": "x", "type": "quantitative", "scale": {"domain": [1.4, 2.2], "nice": false, "zero": false}, "axis": {"values": [1.4, 1.6, 1.8, 2.0, 2.2], "title": "Energy (eV)"}},
                  "y": {"field": "y", "type": "quantitative", "scale": {"domain": [0, 1.2], "nice": false}, "axis": {"title": "Distribution"}},
                  "detail": {"field": "c", "type": "nominal"}}},
    {"transform": [{"filter": "datum.c == 0"}], "mark": {"type": "line", "interpolate": "monotone", "stroke": "#3c3cc8", "strokeWidth": 1.3, "clip": true},
     "encoding": {"x": {"field": "x", "type": "quantitative"}, "y": {"field": "y", "type": "quantitative"}}},
    {"data": {"values": [{"t": "CT"}]}, "mark": {"type": "text", "align": "right", "baseline": "alphabetic", "fontSize": 23}, "encoding": {"x": {"datum": 2.1133}, "y": {"datum": 0.95}, "text": {"field": "t"}}},
    {"data": {"values": [{"t": "3"}]}, "mark": {"type": "text", "align": "right", "baseline": "alphabetic", "fontSize": 15, "dx": -30.7, "dy": -6.5}, "encoding": {"x": {"datum": 2.1133}, "y": {"datum": 0.95}, "text": {"field": "t"}}},
    {"data": {"values": [{"t": "2"}]}, "mark": {"type": "text", "align": "left", "baseline": "alphabetic", "fontSize": 15, "dx": 0.5, "dy": 4}, "encoding": {"x": {"datum": 2.1133}, "y": {"datum": 0.95}, "text": {"field": "t"}}}
  ]}
  ]}
]}
]
}
